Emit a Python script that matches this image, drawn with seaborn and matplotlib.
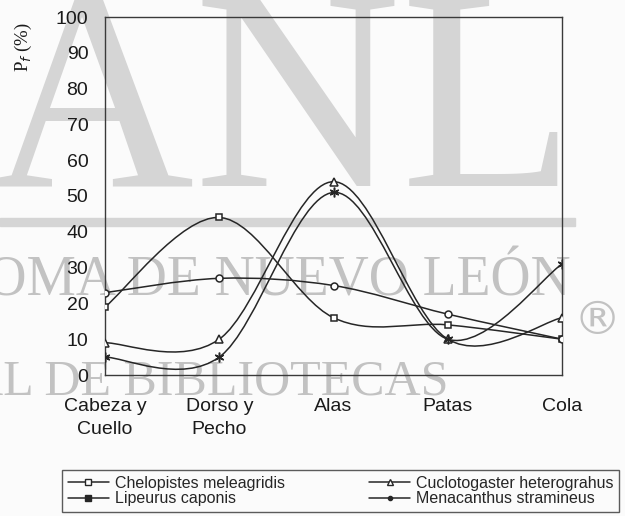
import numpy as np
import seaborn as sns
import matplotlib.pyplot as plt
from matplotlib.path import Path
from matplotlib.patches import PathPatch, Rectangle
from matplotlib.lines import Line2D

# datos
regiones = ["Cabeza y\nCuello", "Dorso y\nPecho", "Alas", "Patas", "Cola"]
chelopistes = [19, 44, 16, 14, 10]
cuclotogaster = [9, 10, 54, 10, 16]
lipeurus = [5, 5, 51, 10, 31]
menacanthus = [23, 27, 25, 17, 10]
especies = ["Chelopistes meleagridis", "Cuclotogaster heterograhus",
            "Lipeurus caponis", "Menacanthus stramineus"]
y_ticks = list(range(0, 101, 10))

sns.set_style("white")
plt.rcParams["font.family"] = ["Liberation Sans", "DejaVu Sans"]

ink = "#262626"
wm = "#d5d5d5"
wm_text = "#c2c2c2"


def smooth_path(xs, ys):
    # curva suavizada tipo Excel (Bezier Catmull-Rom)
    pts = np.column_stack([xs, ys]).astype(float)
    verts = [pts[0]]
    codes = [Path.MOVETO]
    n = len(pts)
    for i in range(n - 1):
        p0 = pts[max(i - 1, 0)]
        p1, p2 = pts[i], pts[i + 1]
        p3 = pts[min(i + 2, n - 1)]
        verts += [p1 + (p2 - p0) / 6, p2 - (p3 - p1) / 6, p2]
        codes += [Path.CURVE4] * 3
    return Path(verts, codes)


fig = plt.figure(figsize=(6.25, 5.16), dpi=100, facecolor="#fbfbfb")
W, H = 625, 516

# marca de agua
fig.text(576 / W, 1 - 186 / H, "UANL", family=["Liberation Serif"], fontsize=206,
         color=wm, ha="right", va="baseline", zorder=-5)
fig.patches.append(Rectangle((0, 1 - 226 / H), 575 / W, 8 / H, transform=fig.transFigure,
                             color=wm, zorder=-5))
fig.text(571 / W, 1 - 295 / H, "UNIVERSIDAD AUTÓNOMA DE NUEVO LEÓN",
         family=["Liberation Serif"], fontsize=40, color=wm_text,
         ha="right", va="baseline", zorder=-5)
fig.text(448 / W, 1 - 395 / H, "DIRECCIÓN GENERAL DE BIBLIOTECAS",
         family=["Liberation Serif"], fontsize=36, color=wm_text,
         ha="right", va="baseline", zorder=-5)
fig.text(597 / W, 1 - 322 / H, "®", family=["DejaVu Sans"], fontsize=34,
         color=wm_text, ha="center", va="center", zorder=-5)

ax = fig.add_axes([105 / W, 1 - 375 / H, (562 - 105) / W, (375 - 17) / H])
ax.set_facecolor("none")

x = np.arange(len(regiones))
series = [chelopistes, cuclotogaster, lipeurus, menacanthus]
markers = ["s", "^", (6, 2, 0), "o"]
sizes = [5, 6, 7, 5]

for vals, m, s in zip(series, markers, sizes):
    ax.add_patch(PathPatch(smooth_path(x, vals), fill=False, edgecolor=ink,
                           linewidth=1.1, zorder=2))
    sns.lineplot(x=x, y=vals, ax=ax, marker=m, markersize=s, linewidth=0,
                 markerfacecolor="white", markeredgecolor=ink,
                 markeredgewidth=1.1, zorder=3)

ax.set_xlim(0, 4)
ax.set_ylim(0, 100)
ax.set_xticks(x)
ax.set_xticklabels(regiones, linespacing=1.45)
ax.set_yticks(y_ticks)
ax.tick_params(axis="both", direction="inout", length=11, width=0.9,
               color="#333333", labelsize=14, labelcolor="#1a1a1a")
ax.tick_params(axis="y", pad=6.5)
ax.tick_params(axis="x", pad=11)
for sp in ax.spines.values():
    sp.set_visible(True)
    sp.set_color("#3a3a3a")
    sp.set_linewidth(1.0)
ax.set_xlabel("")
ax.set_ylabel("")

fig.text(23 / W, 1 - 47 / H, r"P$_f$ (%)", family=["Liberation Serif"],
         fontsize=13.5, rotation=90, ha="center", va="center", color="#1a1a1a")

# leyenda
handles = [
    Line2D([], [], color=ink, lw=1.1, marker="s", ms=4.5, mfc="white", mec=ink),
    Line2D([], [], color=ink, lw=1.1, marker="s", ms=4.5, mfc=ink, mec=ink),
    Line2D([], [], color=ink, lw=1.1, marker="^", ms=5, mfc="white", mec=ink),
    Line2D([], [], color=ink, lw=1.1, marker="o", ms=3, mfc=ink, mec=ink),
]
labels = [especies[0], especies[2], especies[1], especies[3]]
leg = fig.legend(handles, labels, ncol=2, mode="expand", loc="lower left",
                 bbox_to_anchor=(62 / W, 1 - 512 / H, (619 - 62) / W, 45 / H),
                 fontsize=11.5, frameon=True, fancybox=False, handlelength=2.6,
                 handletextpad=0.35, borderpad=0.35, labelspacing=0.05,
                 borderaxespad=0)
leg.get_frame().set_edgecolor("#333333")
leg.get_frame().set_facecolor("#fbfbfb")
leg.get_frame().set_linewidth(1.0)

fig.savefig("out.png", dpi=100, facecolor=fig.get_facecolor())
